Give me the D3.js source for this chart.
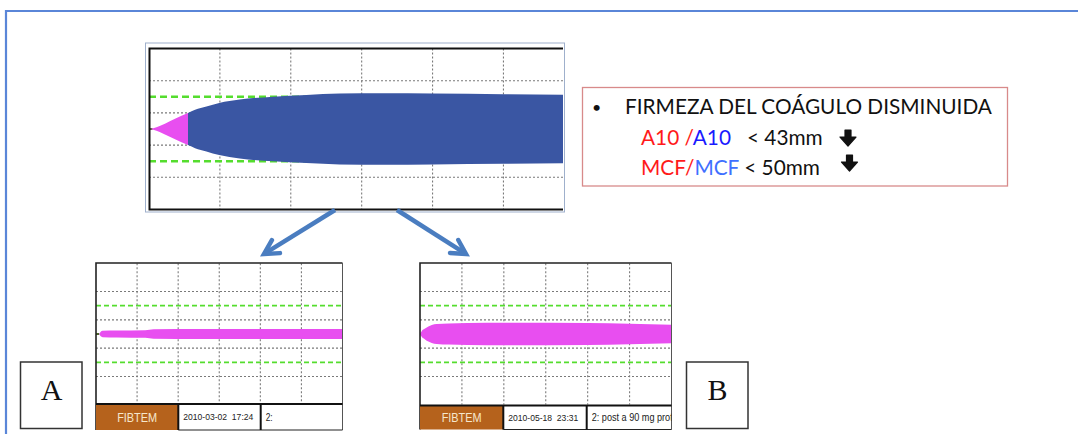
<!DOCTYPE html>
<html lang="es">
<head>
<meta charset="UTF-8">
<title>FIBTEM - firmeza del coágulo</title>
<script src="https://d3js.org/d3.v7.min.js"></script>
<style>
  body { margin: 0; background: #fff; }
  svg { display: block; }
</style>
</head>
<body>
<div id="chart"></div>
<script>
// ---- data (minutes, half amplitude in mm) ----
var timeGrid = [10, 20, 30, 40, 50];
var ampGrid = [-30, -10, 10, 30];
var refLines = [-20, 20];

var topStart = [[0, 0], [0.6, 0.4], [1.5, 1.8], [3, 5], [4.5, 8], [5.5, 10]];
var topTrace = [[5.5, 10], [6.5, 11.9], [8.1, 13.9], [9.9, 16.2], [12.8, 18.3], [17.5, 20.1],
                [22.2, 21.1], [26.9, 22], [33, 22.2], [40, 22], [50, 21.6], [58.4, 21.2]];

var traceA = [[0.8, 0], [1.1, 1.5], [1.6, 2.3], [5, 2.5], [12, 2.7], [14, 3.3], [25, 3.5], [60, 3.6]];
var traceB = [[0, 0], [0.4, 2], [1.2, 3.8], [2, 5.3], [2.8, 6.3], [4, 7], [6.8, 7.5], [16, 8],
              [40, 7.8], [50, 7.2], [60, 6.6]];

var tableA = ["FIBTEM", "2010-03-02  17:24", "2:"];
var tableB = ["FIBTEM", "2010-05-18  23:31", "2: post a 90 mg prot"];

var W = 1078, H = 434;

var svg = d3.select("#chart").append("svg")
  .attr("width", W)
  .attr("height", H);

// outer slide frame
svg.append("path")
  .attr("d", "M6," + H + " V11 H" + W)
  .attr("fill", "none")
  .attr("stroke", "#5a86d8")
  .attr("stroke-width", 2.2);

var area = d3.area().curve(d3.curveMonotoneX);

function panel(opt) {
  var x = d3.scaleLinear().domain(opt.xDomain).range(opt.xRange);
  var y = d3.scaleLinear().domain([-50, 50]).range(opt.yRange);
  var g = svg.append("g");
  var id = "clip" + opt.name;

  g.append("clipPath").attr("id", id)
    .append("rect")
    .attr("x", opt.xRange[0]).attr("y", opt.yRange[1])
    .attr("width", opt.xRange[1] - opt.xRange[0])
    .attr("height", opt.yRange[0] - opt.yRange[1]);

  var plot = g.append("g").attr("clip-path", "url(#" + id + ")");

  plot.selectAll(".vgrid").data(timeGrid).join("line")
    .attr("x1", d => x(d)).attr("x2", d => x(d))
    .attr("y1", opt.yRange[1]).attr("y2", opt.yRange[0])
    .attr("stroke", "#7a7a7a").attr("stroke-width", 1.1)
    .attr("stroke-dasharray", "2,2");

  plot.selectAll(".hgrid").data(ampGrid).join("line")
    .attr("x1", opt.xRange[0]).attr("x2", opt.xRange[1])
    .attr("y1", d => y(d)).attr("y2", d => y(d))
    .attr("stroke", "#7a7a7a").attr("stroke-width", 1.1)
    .attr("stroke-dasharray", "2,2");

  plot.selectAll(".ref").data(refLines).join("line")
    .attr("x1", opt.xRange[0]).attr("x2", opt.xRange[1])
    .attr("y1", d => y(d)).attr("y2", d => y(d))
    .attr("stroke", "#55dd2e").attr("stroke-width", opt.refWidth)
    .attr("stroke-dasharray", opt.refDash);

  // baseline lead before the trace opens
  plot.append("line")
    .attr("x1", x(0)).attr("x2", x(opt.leadEnd))
    .attr("y1", y(0)).attr("y2", y(0))
    .attr("stroke", "#4d6b2a").attr("stroke-width", 2);

  area.x(d => x(d[0])).y0(d => y(-d[1])).y1(d => y(d[1]));
  opt.traces.forEach(function(t) {
    plot.append("path").datum(t.data)
      .attr("fill", t.color)
      .attr("d", area);
  });

  return { g: g, x: x, y: y };
}

// ---- top panel ----
svg.append("rect")
  .attr("x", 145.5).attr("y", 43).attr("width", 419).attr("height", 169)
  .attr("fill", "#fff").attr("stroke", "#9fb0cc").attr("stroke-width", 1);

var topPanel = panel({
  name: "top", xDomain: [0, 58.4], xRange: [149, 563], yRange: [209.5, 48.5],
  refWidth: 2.4, refDash: "7,4", leadEnd: 0.5,
  traces: [{ data: topStart, color: "#e84ef0" }, { data: topTrace, color: "#3a56a3" }]
});
topPanel.g.append("path")
  .attr("d", "M563,48.5 H149.5 V209.5 H563")
  .attr("fill", "none").attr("stroke", "#111").attr("stroke-width", 2);

// ---- bottom panels ----
function bottomPanel(name, x0, x1, data, lead, cells, tTop, tBot, cut, widths) {
  var p = panel({
    name: name, xDomain: [0, 60], xRange: [x0, x1], yRange: [404.8, 263.2],
    refWidth: 1.8, refDash: "5,3", leadEnd: lead,
    traces: [{ data: data, color: "#e84ef0" }]
  });
  p.g.append("path")
    .attr("d", "M" + x1 + ",263 H" + x0 + " V" + tBot)
    .attr("fill", "none").attr("stroke", "#222").attr("stroke-width", 1.6);
  p.g.append("line")
    .attr("x1", x1).attr("x2", x1).attr("y1", 263).attr("y2", tBot)
    .attr("stroke", "#555").attr("stroke-width", 1);

  var edges = [x0, cut[0], cut[1], x1];
  var cg = p.g.append("g");
  cg.append("rect")
    .attr("x", edges[0]).attr("y", tTop)
    .attr("width", edges[1] - edges[0]).attr("height", tBot - tTop)
    .attr("fill", "#b5621c");
  cg.append("line").attr("x1", x0).attr("x2", x1).attr("y1", tTop).attr("y2", tTop)
    .attr("stroke", "#111").attr("stroke-width", 2);
  cg.append("line").attr("x1", edges[1]).attr("x2", x1).attr("y1", tBot).attr("y2", tBot)
    .attr("stroke", "#222").attr("stroke-width", 1.2);
  cg.selectAll(".sep").data([edges[1], edges[2]]).join("line")
    .attr("x1", d => d).attr("x2", d => d).attr("y1", tTop).attr("y2", tBot)
    .attr("stroke", "#111").attr("stroke-width", 2);

  var clipId = "tclip" + name;
  cg.append("clipPath").attr("id", clipId).append("rect")
    .attr("x", x0).attr("y", tTop).attr("width", x1 - x0).attr("height", tBot - tTop);

  cg.selectAll(".cell").data(cells).join("text")
    .attr("clip-path", "url(#" + clipId + ")")
    .attr("x", (d, i) => i === 0 ? (edges[0] + edges[1]) / 2 : edges[i] + 5)
    .attr("y", (tTop + tBot) / 2)
    .attr("dy", "0.36em")
    .attr("text-anchor", (d, i) => i === 0 ? "middle" : "start")
    .attr("font-family", "'Liberation Sans', Arial, sans-serif")
    .attr("font-size", (d, i) => [13, 9.5, 10][i])
    .attr("textLength", (d, i) => widths[i])
    .attr("lengthAdjust", "spacingAndGlyphs")
    .attr("fill", (d, i) => i === 0 ? "#f6e7cc" : "#222")
    .style("white-space", "pre")
    .text(d => d);
}

bottomPanel("A", 96, 342.5, traceA, 0.8, tableA, 404, 430, [178.3, 260.7], [40, 70, 7]);
bottomPanel("B", 420, 671.5, traceB, 0, tableB, 405.5, 429.5, [503.3, 586.7], [40, 70, 81]);

// ---- arrows ----
var arrows = [[[335, 210], [264, 254]], [[397, 210], [466, 254]]];
svg.selectAll(".arrow").data(arrows).join("g").each(function(a) {
  var g = d3.select(this);
  var dx = a[1][0] - a[0][0], dy = a[1][1] - a[0][1];
  var ang = Math.atan2(dy, dx), len = 16, spread = 0.5;
  g.append("line")
    .attr("x1", a[0][0]).attr("y1", a[0][1])
    .attr("x2", a[1][0] - Math.cos(ang) * 2).attr("y2", a[1][1] - Math.sin(ang) * 2)
    .attr("stroke", "#4a7dc0").attr("stroke-width", 4.5);
  var p1 = [a[1][0] - len * Math.cos(ang - spread), a[1][1] - len * Math.sin(ang - spread)];
  var p2 = [a[1][0] - len * Math.cos(ang + spread), a[1][1] - len * Math.sin(ang + spread)];
  g.append("path")
    .attr("d", "M" + p1 + " L" + a[1] + " L" + p2)
    .attr("fill", "none").attr("stroke", "#4a7dc0").attr("stroke-width", 4.5)
    .attr("stroke-linejoin", "miter").attr("stroke-linecap", "round");
});

// ---- text box ----
var box = svg.append("g");
box.append("rect")
  .attr("x", 582.5).attr("y", 87.5).attr("width", 425).attr("height", 98.5)
  .attr("fill", "#fff").attr("stroke", "#d88a8a").attr("stroke-width", 1.3);

var font = "Lato, 'Open Sans', sans-serif";
box.append("text").attr("x", 592).attr("y", 113).attr("font-family", font)
  .attr("font-size", 16).attr("fill", "#111").text("•");
box.append("text").attr("x", 625).attr("y", 113.5).attr("font-family", font)
  .attr("font-size", 20.8).attr("fill", "#111").text("FIRMEZA DEL COÁGULO DISMINUIDA");

var l2 = box.append("text").attr("x", 641).attr("y", 144.5).attr("font-family", font)
  .attr("font-size", 20.8).style("white-space", "pre");
l2.append("tspan").attr("fill", "#ff1a1a").text("A10 /");
l2.append("tspan").attr("fill", "#1a1aff").text("A10");
l2.append("tspan").attr("fill", "#111").text("   < 43mm");

var l3 = box.append("text").attr("x", 641).attr("y", 174.5).attr("font-family", font)
  .attr("font-size", 20.8).style("white-space", "pre");
l3.append("tspan").attr("fill", "#ff1a1a").text("MCF/");
l3.append("tspan").attr("fill", "#3f70ff").text("MCF");
l3.append("tspan").attr("fill", "#111").text(" < 50mm");

// heavy down arrows
function downArrow(cx, ty) {
  box.append("path")
    .attr("d", "M" + (cx - 3) + "," + ty + " h6 v7 h5 l-8,9 l-8,-9 h5 z")
    .attr("fill", "#111").attr("stroke", "#111").attr("stroke-width", 1.2)
    .attr("stroke-linejoin", "round");
}
downArrow(848, 130);
downArrow(849.5, 155);

// ---- A / B labels ----
var labels = [{ t: "A", x: 20.5 }, { t: "B", x: 686.5 }];
var lg = svg.selectAll(".lab").data(labels).join("g");
lg.append("rect")
  .attr("x", d => d.x).attr("y", 362).attr("width", 61.5).attr("height", 66.5)
  .attr("fill", "#fff").attr("stroke", "#333").attr("stroke-width", 1.5);
lg.append("text")
  .attr("x", d => d.x + 31).attr("y", 400)
  .attr("text-anchor", "middle")
  .attr("font-family", "'Liberation Serif', 'Times New Roman', serif")
  .attr("font-size", 30).attr("fill", "#111")
  .text(d => d.t);
</script>
</body>
</html>
